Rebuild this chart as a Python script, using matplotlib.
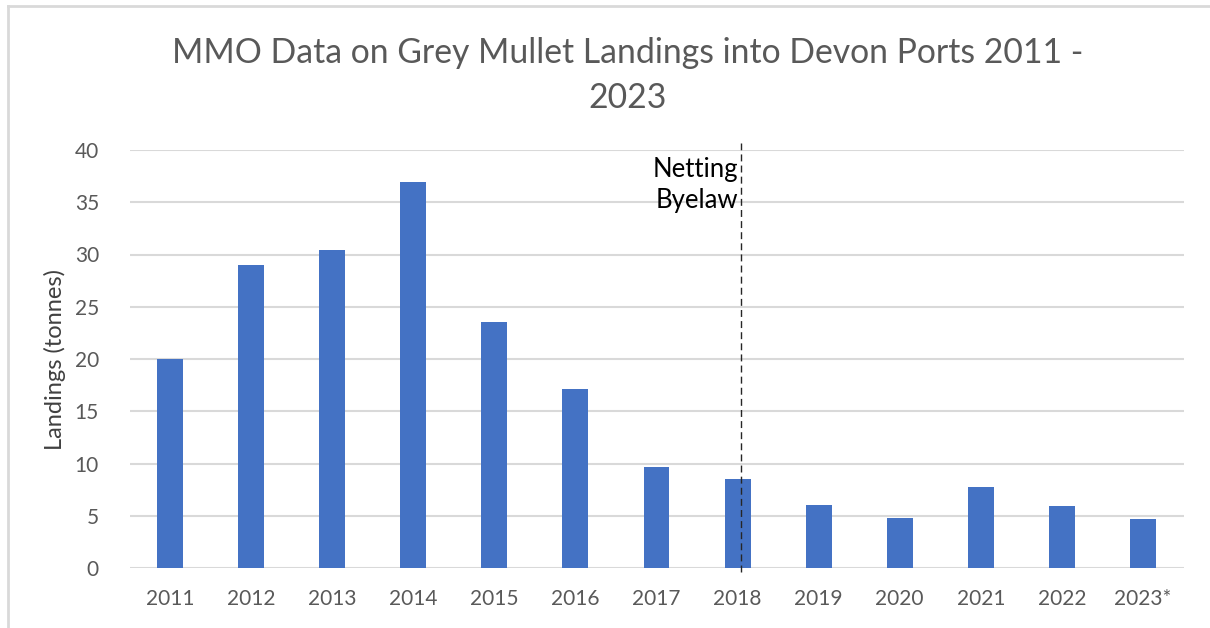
import matplotlib.pyplot as plt
import numpy as np
from matplotlib.lines import Line2D

years = ["2011", "2012", "2013", "2014", "2015", "2016", "2017",
         "2018", "2019", "2020", "2021", "2022", "2023*"]
landings = [20.0, 29.0, 30.4, 36.9, 23.5, 17.1, 9.7,
            8.5, 6.0, 4.8, 7.75, 5.9, 4.7]
byelaw_year = "2018"

W, H = 1210, 628
plt.rcParams["font.family"] = ["Lato", "DejaVu Sans"]
fig = plt.figure(figsize=(W / 100, H / 100), dpi=100, facecolor="white")

# axes box in pixel terms: plot area x 129.5..1183.5, y 150..568
left, right, top, bottom = 129.5, 1183.5, 150, 568
ax = fig.add_axes([left / W, 1 - bottom / H, (right - left) / W, (bottom - top) / H])

x = np.arange(len(years))
ax.bar(x, landings, width=0.32, color="#4472c4", zorder=3)
ax.set_xlim(-0.5, len(years) - 0.5)
ax.set_ylim(0, 40)
ax.set_yticks(range(0, 41, 5))
ax.set_xticks(x)
ax.set_xticklabels(years)
ax.tick_params(axis="both", length=0, colors="#595959", labelsize=15)
ax.tick_params(axis="x", pad=15)
ax.tick_params(axis="y", pad=22)
ax.grid(axis="y", color="#d9d9d9", linewidth=1.5, zorder=0)
for s in ax.spines.values():
    s.set_visible(False)
ax.set_ylabel("Landings (tonnes)", fontsize=17, color="#404040", labelpad=6)

# netting byelaw marker
bx = years.index(byelaw_year) + 0.04
ax.plot([bx, bx], [-0.4, 40.7], color="#262626", linestyle=(0, (5, 3)),
        linewidth=1.0, clip_on=False, zorder=4)
ax.text(bx - 0.03, 39.3, "Netting\nByelaw", ha="right", va="top",
        fontsize=18.5, color="black", linespacing=1.3, zorder=5)

tx = 628 / W
fig.text(tx, 1 - 53 / H, "MMO Data on Grey Mullet Landings into Devon Ports 2011 -",
         ha="center", va="center", fontsize=24.3, color="#595959")
fig.text(tx, 1 - 98 / H, "2023", ha="center", va="center",
         fontsize=24.3, color="#595959")

# chart frame (only left and top edges visible in the crop)
fig.add_artist(Line2D([8 / W, 8 / W], [0, 1 - 6 / H], color="#d9d9d9",
                      linewidth=2, transform=fig.transFigure))
fig.add_artist(Line2D([8 / W, 1], [1 - 6 / H, 1 - 6 / H], color="#d9d9d9",
                      linewidth=2, transform=fig.transFigure))

fig.savefig("out.png", dpi=100, facecolor="white")
